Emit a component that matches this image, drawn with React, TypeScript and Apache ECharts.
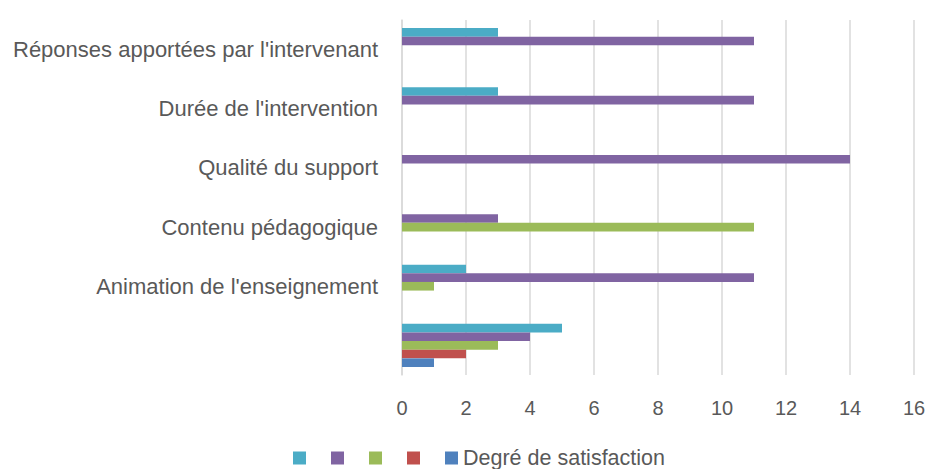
import React, { useEffect, useRef } from "react";
import * as echarts from "echarts";

const categories = [
  "",
  "Animation de l'enseignement",
  "Contenu pédagogique",
  "Qualité du support",
  "Durée de l'intervention",
  "Réponses apportées par l'intervenant",
];
const blueName = "Degré de satisfaction";
const blueValues = [1, null, null, null, null, null];
const redValues = [2, null, null, null, null, null];
const greenValues = [3, 1, 11, null, null, null];
const purpleValues = [4, 11, 3, 14, 11, 11];
const tealValues = [5, 2, null, null, 3, 3];
const xTicks = { min: 0, max: 16, interval: 2 };

export default function App() {
  const ref = useRef<HTMLDivElement>(null);
  useEffect(() => {
    if (!ref.current) return;
    const chart = echarts.init(ref.current, null, { renderer: "svg" });
    const font = "Liberation Sans";
    const mk = (name: string, data: (number | null)[], color: string) => ({
      name,
      type: "bar",
      data,
      itemStyle: { color },
      barGap: "0%",
      barCategoryGap: "27%",
    });
    chart.setOption({
      animation: false,
      textStyle: { fontFamily: font },
      grid: { left: 402, right: 16, top: 20, bottom: 94, containLabel: false },
      xAxis: {
        type: "value",
        ...xTicks,
        axisLine: { show: false },
        axisTick: { show: false },
        splitLine: { show: true, lineStyle: { color: "#d9d9d9", width: 1.5 } },
        axisLabel: { color: "#595959", fontSize: 20, margin: 23, fontFamily: font },
      },
      yAxis: {
        type: "category",
        data: categories,
        axisLine: { show: true, lineStyle: { color: "#d9d9d9", width: 1.5 } },
        axisTick: { show: false },
        axisLabel: { color: "#595959", fontSize: 22, margin: 24, fontFamily: font },
      },
      legend: {
        top: 445,
        left: 293,
        padding: 0,
        itemWidth: 13,
        itemHeight: 13,
        itemGap: 20,
        icon: "rect",
        data: ["s_teal", "s_purple", "s_green", "s_red", blueName],
        formatter: (n: string) => (n.startsWith("s_") ? "" : n),
        textStyle: { color: "#595959", fontSize: 21.5, fontFamily: font, lineHeight: 26 },
      },
      series: [
        mk("s_teal", tealValues, "#4BACC6"),
        mk("s_purple", purpleValues, "#8064A2"),
        mk("s_green", greenValues, "#9BBB59"),
        mk("s_red", redValues, "#C0504D"),
        mk(blueName, blueValues, "#4F81BD"),
      ],
    });
    return () => chart.dispose();
  }, []);
  return (
    <div
      ref={ref}
      style={{ position: "fixed", left: 0, top: 0, width: 930, height: 469, background: "#fff" }}
    />
  );
}
